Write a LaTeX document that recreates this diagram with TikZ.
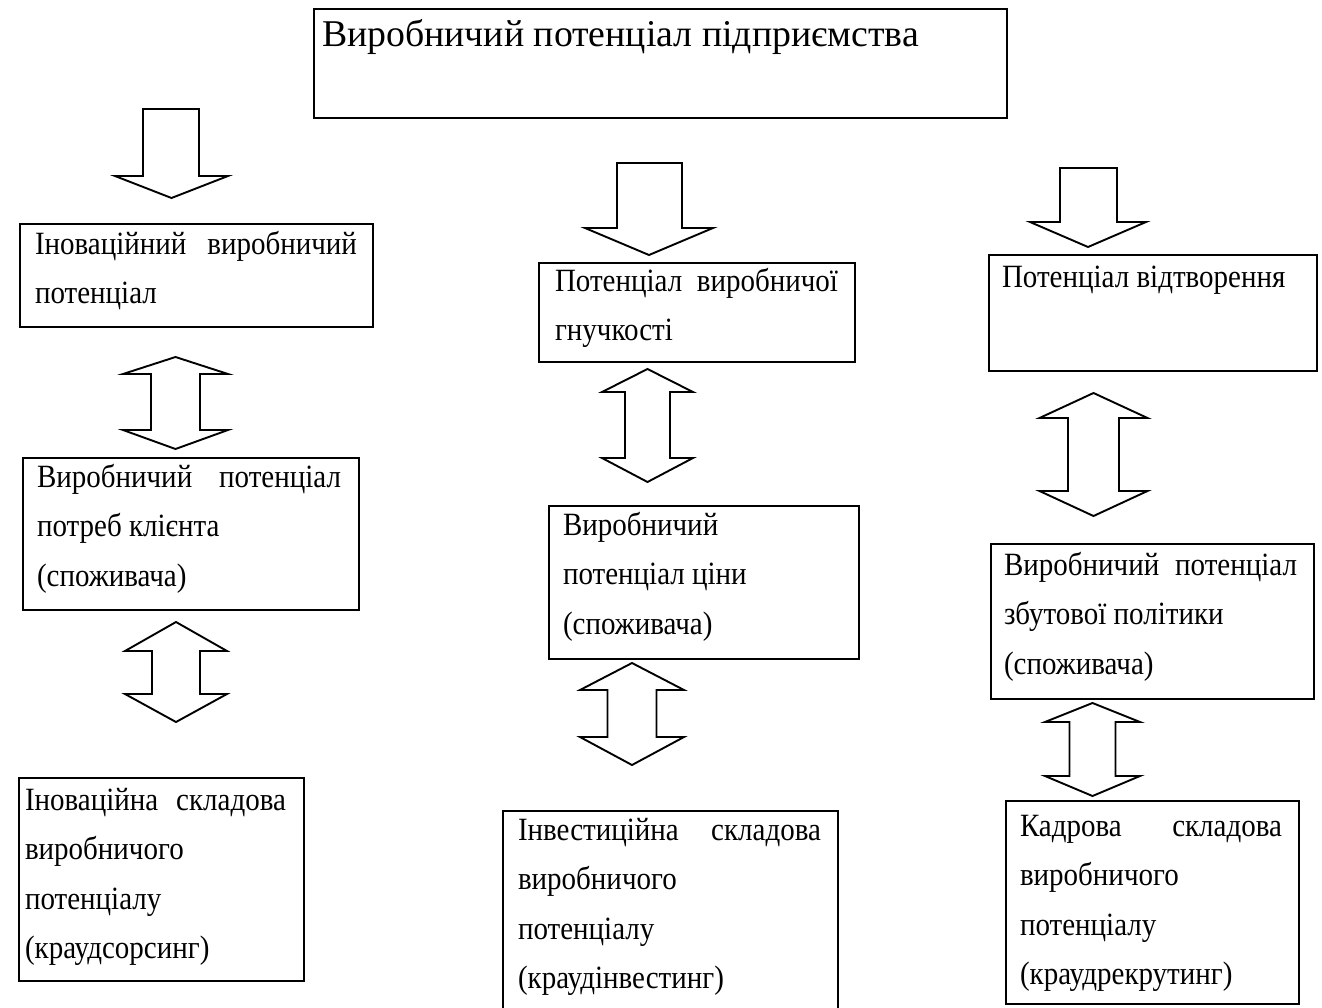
\documentclass[tikz,border=0pt]{standalone}
\usepackage{fontspec}
\setmainfont{Liberation Serif}
\usepackage{graphicx}
\newcommand\btxt[2]{\scalebox{1}[1.12]{\parbox[t]{#1}{\fontsize{29}{44.3}\selectfont #2}}}
\newcommand\jl[1]{\makebox[\linewidth][s]{#1}}
\newcommand\dblarrow[7]{%
  \draw[arr] (#1,#4) -- ({#1+#3},#5) -- ({#1+#2},#5) -- ({#1+#2},#6) -- ({#1+#3},#6) -- (#1,#7)
    -- ({#1-#3},#6) -- ({#1-#2},#6) -- ({#1-#2},#5) -- ({#1-#3},#5) -- cycle;}
\begin{document}
\begin{tikzpicture}[x=1pt,y=-1pt,
  box/.style={draw, line width=2.4pt, inner sep=0pt, anchor=north west, fill=white},
  txt/.style={anchor=base west, inner sep=0pt, outer sep=0pt},
  arr/.style={draw, line width=1.9pt, fill=white, line join=miter}]
\useasboundingbox (0,0) rectangle (1322,1007);
\clip (0,0) rectangle (1322,1007);
\fill[white] (0,0) rectangle (1322,1007);

% title
\node[box, minimum width=693pt, minimum height=109pt] (title) at (313,8) {};
\node[txt] (titletxt) at (322,46) {\fontsize{37.8}{38}\selectfont Виробничий потенціал підприємства};

% left column
\node[box, minimum width=353pt, minimum height=103pt] (a1) at (19,223) {};
\node[txt] (a1t) at (35,254) {\btxt{322pt}{\jl{Іноваційний виробничий}\\потенціал}};
\node[box, minimum width=336pt, minimum height=152pt] (a2) at (22,457) {};
\node[txt] (a2t) at (37,487) {\btxt{304pt}{\jl{Виробничий потенціал}\\потреб клієнта\\(споживача)}};
\node[box, minimum width=285pt, minimum height=203pt] (a3) at (18,777) {};
\node[txt] (a3t) at (25,810) {\btxt{261pt}{\jl{Іноваційна складова}\\виробничого\\потенціалу\\(краудсорсинг)}};

% middle column
\node[box, minimum width=316pt, minimum height=99pt] (m1) at (538,262) {};
\node[txt] (m1t) at (555,291) {\btxt{283pt}{\jl{Потенціал виробничої}\\гнучкості}};
\node[box, minimum width=310pt, minimum height=153pt] (m2) at (548,505) {};
\node[txt] (m2t) at (563,535) {\btxt{280pt}{Виробничий\\потенціал ціни\\(споживача)}};
\node[box, minimum width=335pt, minimum height=220pt] (m3) at (502,810) {};
\node[txt] (m3t) at (518,840) {\btxt{303pt}{\jl{Інвестиційна складова}\\виробничого\\потенціалу\\(краудінвестинг)}};

% right column
\node[box, minimum width=328pt, minimum height=116pt] (r1) at (988,254) {};
\node[txt] (r1t) at (1002,287) {\btxt{300pt}{Потенціал відтворення}};
\node[box, minimum width=323pt, minimum height=155pt] (r2) at (990,543) {};
\node[txt] (r2t) at (1004,575) {\btxt{293pt}{\jl{Виробничий потенціал}\\збутової політики\\(споживача)}};
\node[box, minimum width=293pt, minimum height=203pt] (r3) at (1005,800) {};
\node[txt] (r3t) at (1020,836) {\btxt{262pt}{\jl{Кадрова складова}\\виробничого\\потенціалу\\(краудрекрутинг)}};

% down arrows
\draw[arr] (143,109) -- (199,109) -- (199,176) -- (228,176) -- (171.5,198) -- (115,176) -- (143,176) -- cycle;
\draw[arr] (617,163) -- (682,163) -- (682,228) -- (713,228) -- (649,255) -- (585,228) -- (617,228) -- cycle;
\draw[arr] (1060,168) -- (1117,168) -- (1117,222) -- (1146,222) -- (1088,247) -- (1030,222) -- (1060,222) -- cycle;

% double arrows
\dblarrow{175.5}{24.5}{52.5}{357}{374}{430}{449}
\dblarrow{176}{24}{51}{622}{651}{694}{722}
\dblarrow{647.5}{22.5}{45.5}{369}{392}{458}{482}
\dblarrow{632}{24.5}{52}{663}{690}{737}{765}
\dblarrow{1093.5}{25.5}{54}{393}{418}{491}{516}
\dblarrow{1092.5}{23}{47.5}{703}{722}{776}{796}
\end{tikzpicture}
\end{document}
